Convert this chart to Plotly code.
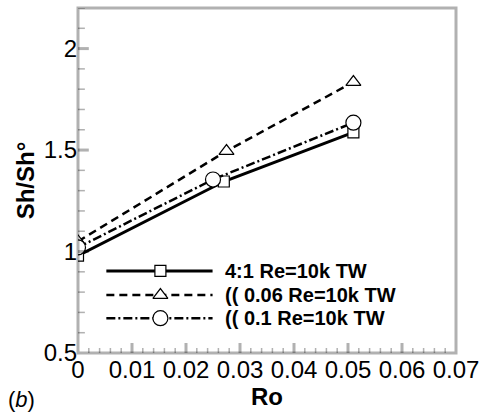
import plotly.graph_objects as go

# Rotation number and normalised Sherwood number for three cases
ro_41 = [0.0, 0.027, 0.051]
sh_41 = [0.98, 1.345, 1.587]

ro_006 = [0.0, 0.0275, 0.051]
sh_006 = [1.05, 1.495, 1.835]

ro_01 = [0.0, 0.025, 0.051]
sh_01 = [1.02, 1.355, 1.635]

labels = ["4:1 Re=10k TW", "(( 0.06 Re=10k TW", "(( 0.1 Re=10k TW"]
x_ticks = [0, 0.01, 0.02, 0.03, 0.04, 0.05, 0.06, 0.07]
x_ticklabels = ["0", "0.01", "0.02", "0.03", "0.04", "0.05", "0.06", "0.07"]
y_ticks = [0.5, 1, 1.5, 2]
y_ticklabels = ["0.5", "1", "1.5", "2"]

X_RANGE = [0, 0.07]
Y_RANGE = [0.5, 2.2]

# minor tick positions: 5 per major interval on x, 0.1 steps on y
x_minor = [round(i * 0.002, 4) for i in range(36) if i % 5]
y_minor = [round(0.5 + i * 0.1, 2) for i in range(18) if i % 5]

FONT = "Liberation Sans, Arial, sans-serif"

# plot area size in pixels (used to turn tick lengths into paper fractions)
W, H = 487, 412
M = dict(l=78, r=24, t=8, b=59)
PW = W - M["l"] - M["r"]
PH = H - M["t"] - M["b"]

styles = [
    dict(dash="solid", width=3, symbol="square", size=11),
    dict(dash="8px,5px", width=2.5, symbol="triangle-up", size=13),
    dict(dash="9px,3px,2px,3px", width=2.5, symbol="circle", size=15),
]
series = [(ro_41, sh_41), (ro_006, sh_006), (ro_01, sh_01)]


def fx(f):
    """Fraction of the plot width -> x data value."""
    return X_RANGE[0] + f * (X_RANGE[1] - X_RANGE[0])


def fy(f):
    """Fraction of the plot height -> y data value."""
    return Y_RANGE[0] + f * (Y_RANGE[1] - Y_RANGE[0])


fig = go.Figure()
for (xs, ys), st in zip(series, styles):
    fig.add_trace(go.Scatter(
        x=xs, y=ys, mode="lines+markers", showlegend=False,
        line=dict(color="black", width=st["width"], dash=st["dash"]),
        marker=dict(symbol=st["symbol"], size=st["size"], color="white",
                    line=dict(color="black", width=1.2)),
    ))

# Legend drawn inside the frame
leg_x0, leg_x1, leg_xm, leg_tx = 0.075, 0.356, 0.218, 0.385
leg_rows = [0.238, 0.168, 0.101]
for row_y, st, lab in zip(leg_rows, styles, labels):
    fig.add_trace(go.Scatter(
        x=[fx(leg_x0), fx(leg_x1)], y=[fy(row_y), fy(row_y)], mode="lines",
        showlegend=False, hoverinfo="skip",
        line=dict(color="black", width=st["width"], dash=st["dash"]),
    ))
    fig.add_trace(go.Scatter(
        x=[fx(leg_xm)], y=[fy(row_y)], mode="markers",
        showlegend=False, hoverinfo="skip",
        marker=dict(symbol=st["symbol"], size=st["size"], color="white",
                    line=dict(color="black", width=1.2)),
    ))
    fig.add_annotation(
        x=leg_tx, y=row_y, xref="paper", yref="paper", text="<b>" + lab + "</b>",
        showarrow=False, xanchor="left", yanchor="middle", borderpad=0,
        font=dict(family=FONT, size=20, color="black"),
    )

fig.add_annotation(
    x=-0.19, y=-0.135, xref="paper", yref="paper", text="(<i>b</i>)",
    showarrow=False, xanchor="left", yanchor="middle",
    font=dict(family=FONT, size=22, color="black"),
)

# Frame and inward tick marks
shapes = [dict(type="rect", xref="paper", yref="paper", x0=0, x1=1, y0=0, y1=1,
               line=dict(color="black", width=3), fillcolor="rgba(0,0,0,0)",
               layer="above")]


def x_tick(v, length, width):
    return dict(type="line", xref="x", yref="paper", x0=v, x1=v, y0=0,
                y1=length / PH, line=dict(color="black", width=width), layer="above")


def y_tick(v, length, width):
    return dict(type="line", xref="paper", yref="y", y0=v, y1=v, x0=0,
                x1=length / PW, line=dict(color="black", width=width), layer="above")


shapes += [x_tick(v, 10, 3) for v in x_ticks[1:-1]]
shapes += [x_tick(v, 5, 1.5) for v in x_minor]
shapes += [y_tick(v, 11, 3) for v in y_ticks[1:]]
shapes += [y_tick(v, 7, 1.5) for v in y_minor]

axis_common = dict(
    showgrid=False, zeroline=False, showline=False, ticks="",
    tickmode="array", tickfont=dict(family=FONT, size=24, color="black"),
)

fig.update_layout(
    width=W, height=H, template="simple_white",
    margin=M, paper_bgcolor="white", plot_bgcolor="white",
    shapes=shapes,
    xaxis=dict(
        range=X_RANGE, tickvals=x_ticks, ticktext=x_ticklabels,
        title=dict(text="<b>Ro</b>", font=dict(family=FONT, size=24, color="black"),
                   standoff=0),
        **axis_common,
    ),
    yaxis=dict(
        range=Y_RANGE, tickvals=y_ticks, ticktext=y_ticklabels,
        title=dict(text="<b>Sh/Sh°</b>", font=dict(family=FONT, size=24, color="black"),
                   standoff=2),
        **axis_common,
    ),
)

fig.write_html("out.html")
